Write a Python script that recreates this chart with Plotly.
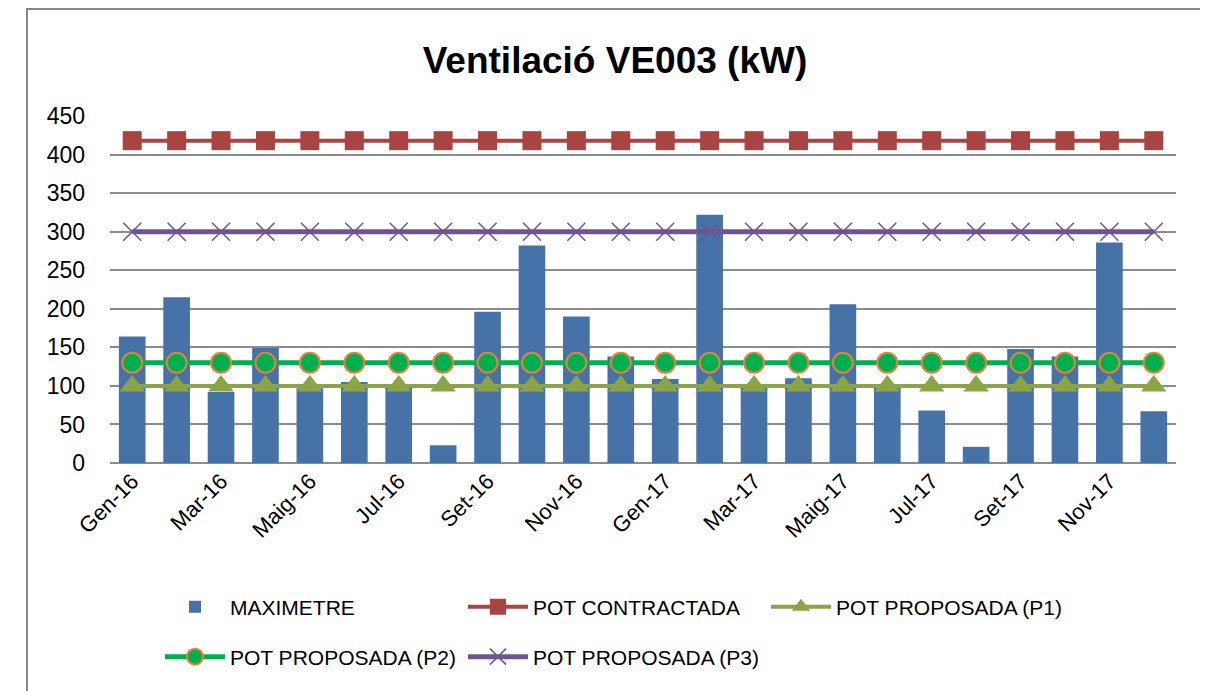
import plotly.graph_objects as go

months = ["Gen-16", "Feb-16", "Mar-16", "Abr-16", "Maig-16", "Jun-16", "Jul-16", "Ag-16",
          "Set-16", "Oct-16", "Nov-16", "Des-16", "Gen-17", "Feb-17", "Mar-17", "Abr-17",
          "Maig-17", "Jun-17", "Jul-17", "Ag-17", "Set-17", "Oct-17", "Nov-17", "Des-17"]
maximetre = [164, 215, 92, 149, 97, 105, 98, 23, 196, 282, 190, 138,
             109, 322, 98, 110, 206, 98, 68, 21, 148, 138, 286, 67]
pot_contractada = [418] * 24
pot_p1 = [100] * 24
pot_p2 = [130] * 24
pot_p3 = [300] * 24
tick_labels = months[::2]

FONT = "Liberation Sans"

# page body adds an 8px offset; plot area on screen: x 110..1176, y 116..463
W, H = 1200, 683
L, T = 102, 108
PW, PH = 1066, 347


def px(xs):
    return (xs - 110) / PW


def py(ys):
    return (463 - ys) / PH


fig = go.Figure()
fig.add_trace(go.Bar(x=months, y=maximetre, name="MAXIMETRE", marker_color="#4672A8",
                     marker_line_width=0, width=0.6, legend="legend"))
fig.add_trace(go.Scatter(x=months, y=pot_contractada, name="POT CONTRACTADA", mode="lines+markers",
                         line=dict(color="#A84441", width=4),
                         marker=dict(symbol="square", size=19, color="#A84441"), legend="legend"))
fig.add_trace(go.Scatter(x=months, y=pot_p1, name="POT PROPOSADA (P1)", mode="lines+markers",
                         line=dict(color="#8BA446", width=4),
                         marker=dict(symbol="triangle-up", size=22, color="#8BA446"), legend="legend"))
fig.add_trace(go.Scatter(x=months, y=pot_p2, name="POT PROPOSADA (P2)", mode="lines+markers",
                         line=dict(color="#00B050", width=5),
                         marker=dict(symbol="circle", size=20, color="#00B050",
                                     line=dict(color="#E8803A", width=2)), legend="legend2"))
fig.add_trace(go.Scatter(x=months, y=pot_p3, name="POT PROPOSADA (P3)", mode="lines+markers",
                         line=dict(color="#6F548F", width=5),
                         marker=dict(symbol="x-thin-open", size=18, color="#6F548F",
                                     line=dict(color="#6F548F", width=1.5)), legend="legend2"))

legend_common = dict(orientation="h", xanchor="left", yanchor="middle",
                     font=dict(family=FONT, size=21, color="#000000"),
                     entrywidth=228, entrywidthmode="pixels", itemwidth=60,
                     bgcolor="rgba(0,0,0,0)", traceorder="normal")

fig.update_layout(
    width=W, height=H,
    margin=dict(l=L, r=W - L - PW, t=T, b=H - T - PH),
    paper_bgcolor="white", plot_bgcolor="white",
    font=dict(family=FONT, color="#000000"),
    title=dict(text="<b>Ventilació VE003 (kW)</b>", x=607 / W, xanchor="center",
               y=1 - 52 / H, yanchor="middle",
               font=dict(family=FONT, size=37, color="#000000")),
    bargap=0.4,
    showlegend=True,
    legend=dict(x=px(160), y=py(607), **legend_common),
    legend2=dict(x=px(160), y=py(657), **legend_common),
    xaxis=dict(type="category", range=[-0.5, len(months) - 0.5],
               tickmode="array", tickvals=tick_labels, ticktext=tick_labels,
               tickangle=-45, tickfont=dict(family=FONT, size=22, color="#000000"),
               showgrid=False, showline=False, ticks="", ticklen=0),
    yaxis=dict(range=[0, 450], dtick=50, showgrid=True, gridcolor="#8C8C8C", gridwidth=1.5,
               zeroline=True, zerolinecolor="#8C8C8C", zerolinewidth=1.5,
               showline=False, ticks="", tickfont=dict(family=FONT, size=23, color="#000000"),
               ticklabelstandoff=24),
    shapes=[dict(type="rect", xref="paper", yref="paper",
                 x0=px(27), x1=px(1205), y0=py(720), y1=py(9),
                 line=dict(color="#888888", width=2), fillcolor="rgba(0,0,0,0)", layer="below")],
)

fig.write_html("out.html")
